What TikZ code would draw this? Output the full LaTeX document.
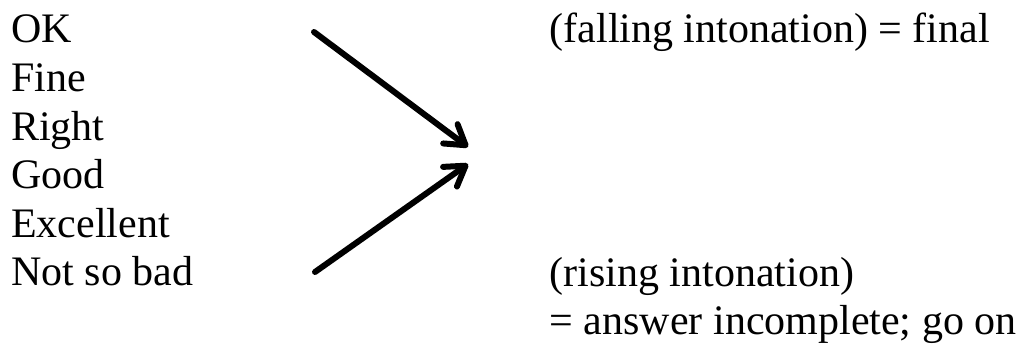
\documentclass[tikz,border=0pt]{standalone}
\usepackage{fontspec}
\setmainfont{Liberation Serif}
\usetikzlibrary{arrows.meta}
\begin{document}
\begin{tikzpicture}[x=1pt,y=-1pt,
  word/.style={anchor=base west,inner sep=0pt,font=\fontsize{42}{48.5}\selectfont},
  arr/.style={line width=6pt,line cap=round,-{Straight Barb[length=19pt,width=24pt,line cap=round,line join=round]}}]
\useasboundingbox (0,0) rectangle (1031,344);
\node[word] (ok) at (11,43) {OK};
\node[word] (fine) at (11,91.6) {Fine};
\node[word] (right) at (11,140.2) {Right};
\node[word] (good) at (11,188.8) {Good};
\node[word] (exc) at (11,237.4) {Excellent};
\node[word] (nsb) at (11,286) {Not so bad};
\node[word] (fall) at (549.5,43) {(falling intonation) = final};
\node[word] (rise) at (549.5,287) {(rising intonation)};
\node[word] (ans) at (549.5,335) {= answer incomplete; go on};
\coordinate (s1) at (314,32);
\coordinate (t1) at (468,147);
\coordinate (s2) at (315,272);
\coordinate (t2) at (468,164);
\draw[arr] (s1) -- (t1);
\draw[arr] (s2) -- (t2);
\end{tikzpicture}
\end{document}
